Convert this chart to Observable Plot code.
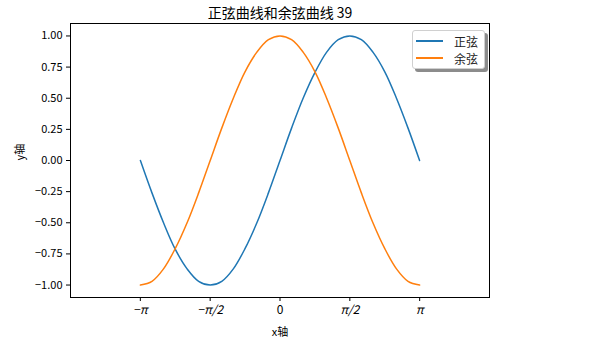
<!DOCTYPE html>
<html>
<head>
<meta charset="utf-8">
<script src="https://cdn.jsdelivr.net/npm/d3@7"></script>
<script src="https://cdn.jsdelivr.net/npm/@observablehq/plot@0.6"></script>
<style>
  html, body { margin: 0; padding: 0; background: #fff; }
  #wrap { position: relative; width: 594px; height: 346px; font-family: "Noto Sans CJK SC", sans-serif; }
  #legend {
    position: absolute; left: 412px; top: 30px; width: 73px; height: 39px;
    background: #fff; border: 1px solid #d0d0d0; border-radius: 3px;
    box-shadow: 3px 3px 0 #8c8c8c; box-sizing: border-box;
    font-size: 12px; color: #222;
  }
  .row { position: absolute; left: 3px; height: 14px; display: flex; align-items: center; }
  .sw { width: 27px; height: 2px; margin-right: 11px; }
</style>
</head>
<body>
<div id="wrap"></div>
<script>
const title = "正弦曲线和余弦曲线 39";
const xLabel = "x轴";
const yLabel = "y轴";
const seriesNames = ["正弦", "余弦"];
const seriesColors = ["#1f77b4", "#ff7f0e"];

const xs = [-3.14, -2.88, -2.62, -2.36, -2.09, -1.83, -1.57, -1.31, -1.05, -0.79, -0.52, -0.26, 0,
            0.26, 0.52, 0.79, 1.05, 1.31, 1.57, 1.83, 2.09, 2.36, 2.62, 2.88, 3.14];
const sinVals = [0, -0.26, -0.5, -0.71, -0.87, -0.97, -1, -0.97, -0.87, -0.71, -0.5, -0.26, 0,
                 0.26, 0.5, 0.71, 0.87, 0.97, 1, 0.97, 0.87, 0.71, 0.5, 0.26, 0];
const cosVals = [-1, -0.97, -0.87, -0.71, -0.5, -0.26, 0, 0.26, 0.5, 0.71, 0.87, 0.97, 1,
                 0.97, 0.87, 0.71, 0.5, 0.26, 0, -0.26, -0.5, -0.71, -0.87, -0.97, -1];

const xTicks = [-Math.PI, -Math.PI / 2, 0, Math.PI / 2, Math.PI];
const xTickLabels = ["−π", "−π/2", "0", "π/2", "π"];
const yTicks = [-1, -0.75, -0.5, -0.25, 0, 0.25, 0.5, 0.75, 1];

const data = [];
xs.forEach((x, i) => {
  data.push({x, y: sinVals[i], s: seriesNames[0]});
  data.push({x, y: cosVals[i], s: seriesNames[1]});
});

const fmtY = d3.format(".2f");
const xLab = (d) => xTickLabels[xTicks.indexOf(d)];
const piTicks = xTicks.filter(d => d !== 0);
const zeroTicks = xTicks.filter(d => d === 0);

const chart = Plot.plot({
  width: 594,
  height: 346,
  marginLeft: 70,
  marginRight: 105,
  marginTop: 23,
  marginBottom: 49,
  style: {fontFamily: "'Noto Sans CJK SC', sans-serif", fontSize: "11px", color: "#000", background: "#fff"},
  x: {domain: [-1.5 * Math.PI, 1.5 * Math.PI]},
  y: {domain: [-1.1, 1.1]},
  color: {domain: seriesNames, range: seriesColors},
  marks: [
    Plot.line(data, {x: "x", y: "y", z: "s", stroke: "s", strokeWidth: 1.5, curve: "catmull-rom"}),
    Plot.frame({stroke: "#000", strokeWidth: 1}),
    Plot.axisX({ticks: piTicks, tickFormat: xLab, tickSize: 4, tickPadding: 4, fontSize: 12, fontStyle: "italic", label: null}),
    Plot.axisX({ticks: zeroTicks, tickFormat: xLab, tickSize: 4, tickPadding: 4, fontSize: 12, label: null}),
    Plot.axisY({ticks: yTicks, tickFormat: fmtY, tickSize: 4, tickPadding: 4, fontSize: 11, label: null}),
    Plot.text([title], {frameAnchor: "top", lineAnchor: "middle", dy: -10, fontSize: 14, fill: "#000"}),
    Plot.text([xLabel], {frameAnchor: "bottom", lineAnchor: "middle", dy: 35, fontSize: 11, fill: "#000"}),
    Plot.text([yLabel], {frameAnchor: "left", lineAnchor: "middle", dx: -50, rotate: -90, fontSize: 11, fill: "#000"})
  ]
});

const wrap = document.getElementById("wrap");
wrap.appendChild(chart);

const legend = document.createElement("div");
legend.id = "legend";
seriesNames.forEach((n, i) => {
  const row = document.createElement("div");
  row.className = "row";
  row.style.top = (3 + i * 17) + "px";
  const sw = document.createElement("div");
  sw.className = "sw";
  sw.style.background = seriesColors[i];
  const t = document.createElement("span");
  t.textContent = n;
  row.appendChild(sw);
  row.appendChild(t);
  legend.appendChild(row);
});
wrap.appendChild(legend);
</script>
</body>
</html>
